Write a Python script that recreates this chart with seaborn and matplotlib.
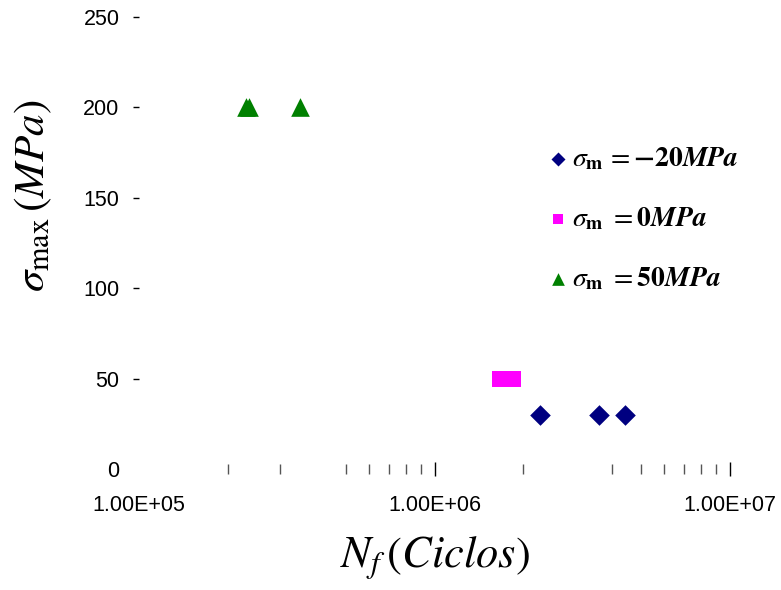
import matplotlib
matplotlib.use("Agg")
import matplotlib.pyplot as plt
import seaborn as sns
from matplotlib.ticker import NullFormatter

# data
ciclos_m20 = [2.28e6, 3.6e6, 4.42e6]
sigma_m20 = [30, 30, 30]
ciclos_0 = [1.66e6, 1.75e6, 1.85e6]
sigma_0 = [50, 50, 50]
ciclos_50 = [2.3e5, 2.36e5, 3.5e5]
sigma_50 = [200, 200, 200]

labels = [r'$\sigma_{\mathbf{m}}\,=\mathbf{-20}\mathbfit{MPa}$',
          r'$\sigma_{\mathbf{m}}\ =\mathbf{0}\mathbfit{MPa}$',
          r'$\sigma_{\mathbf{m}}\ =\mathbf{50}\mathbfit{MPa}$']
y_ticks = [0, 50, 100, 150, 200, 250]
x_ticks = [1e5, 1e6, 1e7]
x_tick_labels = ["1.00E+05", "1.00E+06", "1.00E+07"]
x_minor = [2e5, 3e5, 5e5, 6e5, 7e5, 8e5, 9e5,
           2e6, 4e6, 5e6, 6e6, 7e6, 8e6, 9e6]

sns.set_style("white")
plt.rcParams['font.family'] = ['Liberation Sans', 'DejaVu Sans']
plt.rcParams['mathtext.fontset'] = 'stix'
plt.rcParams['text.color'] = 'black'

fig = plt.figure(figsize=(7.81, 5.90), dpi=100)
ax = fig.add_axes([139/781, 1-469/590, (730-139)/781, (469-17)/590])

sns.scatterplot(x=ciclos_m20, y=sigma_m20, marker='D', color='#000080', s=110,
                linewidth=0, label=labels[0], ax=ax)
sns.scatterplot(x=ciclos_0, y=sigma_0, marker='s', color='#FF00FF', s=130,
                linewidth=0, label=labels[1], ax=ax)
sns.scatterplot(x=ciclos_50, y=sigma_50, marker='^', color='#008000', s=180,
                linewidth=0, label=labels[2], ax=ax)

ax.set_xscale('log')
ax.set_xlim(1e5, 1e7)
ax.set_ylim(0, 250)
ax.set_xticks(x_ticks)
ax.set_xticklabels(x_tick_labels)
ax.set_xticks(x_minor, minor=True)
ax.xaxis.set_minor_formatter(NullFormatter())
ax.set_yticks(y_ticks)
for s in ax.spines.values():
    s.set_visible(False)

ax.tick_params(axis='y', direction='out', length=4, width=1, color='black',
               pad=10, labelsize=15.5, labelcolor='black', left=True)
ax.tick_params(axis='x', which='major', direction='inout', length=10, width=1,
               color='black', pad=14, labelsize=15.5, labelcolor='black',
               bottom=True)
ax.tick_params(axis='x', which='minor', direction='inout', length=7, width=1,
               color='#555555', bottom=True)
ax.xaxis.get_major_ticks()[0].tick1line.set_visible(False)
ax.yaxis.get_major_ticks()[0].tick1line.set_visible(False)

ax.set_xlabel('')
ax.set_ylabel('')
fig.text(435/781, 1-558/590, r'$N_f\,(Ciclos)$', fontsize=32,
         ha='center', va='center')
fig.text(33/781, 1-196/590, r'$\sigma_{\mathrm{max}}\,(MPa)$', fontsize=31,
         ha='center', va='center', rotation=90)

ax.legend(loc='upper left', bbox_to_anchor=(0.685, 0.715), frameon=False,
          fontsize=20, markerscale=0.68, handlelength=1.0, handletextpad=0.0,
          labelspacing=1.2, borderpad=0, borderaxespad=0)

fig.savefig("out.png", dpi=100)
